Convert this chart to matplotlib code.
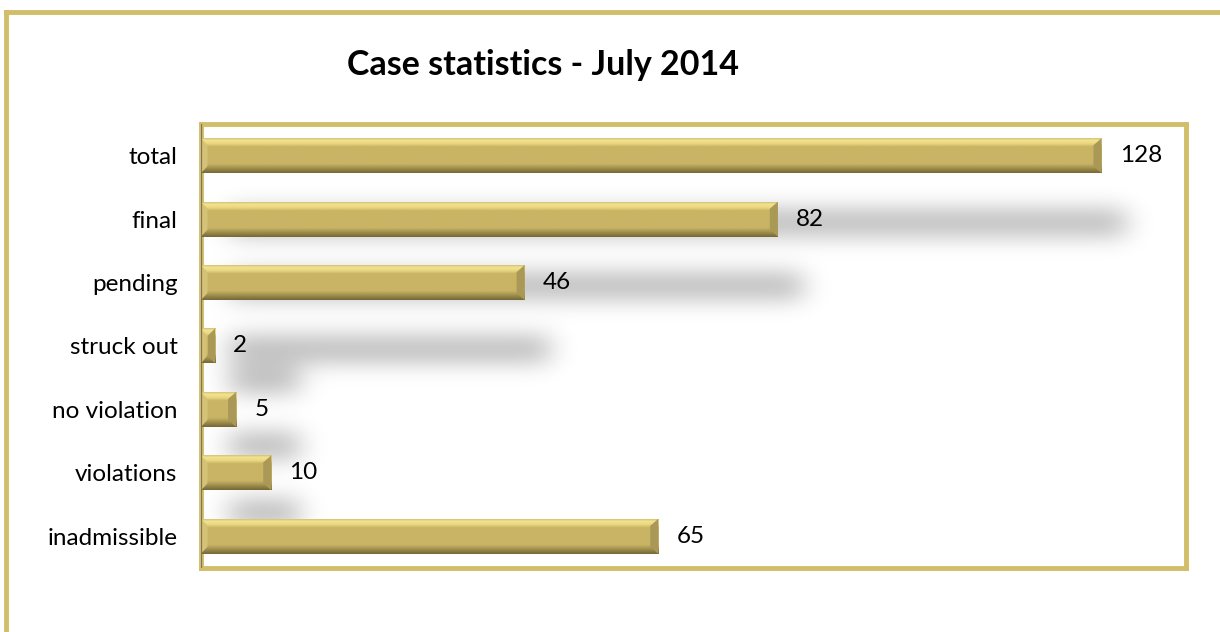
import numpy as np
import matplotlib
matplotlib.use("Agg")
import matplotlib.pyplot as plt
from matplotlib.patches import Polygon
from matplotlib.lines import Line2D
from matplotlib.colors import to_rgb

# data (top to bottom as shown)
categories = ["total", "final", "pending", "struck out", "no violation", "violations", "inadmissible"]
values = [128, 82, 46, 2, 5, 10, 65]
title = "Case statistics - July 2014"
x_max = 140

GOLD = "#D2BD68"
MAIN = "#C9B465"
FONT = ["Lato", "DejaVu Sans"]

plt.rcParams["font.family"] = FONT

fig = plt.figure(figsize=(12.2, 6.32), dpi=100)
ax = fig.add_axes([201 / 1220, 1 - 568 / 632, 985 / 1220, 444 / 632])

n = len(categories)
ypos = np.arange(n)
bar_h = 0.55
ax.set_xlim(0, x_max)
ax.set_ylim(n - 0.5, -0.5)

# ---- soft perspective shadows (blurred mask) ----
W, H = 1000, 450
mask = np.zeros((H, W))
xs = np.linspace(0, x_max, W)
ys = np.linspace(-0.5, n - 0.5, H)
for y, v in zip(ypos, values):
    off = 0.5 + 0.55 * min(1.0, v / 40)
    x0, x1 = 4, max(v + 3.5, 14)
    yy = (ys > y + off - 0.22) & (ys < y + off + 0.22)
    xx = (xs > x0) & (xs < x1)
    mask[np.ix_(yy, xx)] = 1.0


def blur(a, sigma, axis):
    r = int(3 * sigma)
    k = np.exp(-0.5 * (np.arange(-r, r + 1) / sigma) ** 2)
    k /= k.sum()
    return np.apply_along_axis(lambda m: np.convolve(m, k, mode="same"), axis, a)


mask = blur(blur(mask, 14, 1), 11, 0)
shadow = np.zeros((H, W, 4))
shadow[..., 3] = np.clip(mask, 0, 1) * 0.26
ax.imshow(shadow, extent=(0, x_max, n - 0.5, -0.5), origin="upper",
          aspect="auto", zorder=1, interpolation="bilinear")

# ---- bevelled bars ----
prof_pts = [(0.0, "#D6C47A"), (0.06, "#F4E48E"), (0.16, "#E8D57F"),
            (0.24, MAIN), (0.74, MAIN), (0.84, "#A99852"), (1.0, "#766838")]
t = np.linspace(0, 1, 60)
cols = np.array([to_rgb(c) for _, c in prof_pts])
pos = np.array([p for p, _ in prof_pts])
grad = np.stack([np.interp(t, pos, cols[:, k]) for k in range(3)], axis=1)
grad_img = grad[:, None, :]

dy = 0.11
for y, v in zip(ypos, values):
    top, bot = y - bar_h / 2, y + bar_h / 2
    ax.imshow(grad_img, extent=(0, v, bot, top), origin="upper",
              aspect="auto", zorder=3, interpolation="bilinear")
    dx = min(1.15, v / 2)
    ax.add_patch(Polygon([(v, top), (v, bot), (v - dx, bot - dy), (v - dx, top + dy)],
                         closed=True, fc="#AA9956", ec="none", zorder=4))
    ax.add_patch(Polygon([(0, top), (0, bot), (dx * 0.8, bot - dy), (dx * 0.8, top + dy)],
                         closed=True, fc="#D3C278", ec="none", zorder=4))
    ax.annotate(str(v), (v, y), xytext=(13, 0), textcoords="offset points",
                va="center", ha="left", fontsize=17.5, color="black")

ax.set_xlim(0, x_max)
ax.set_ylim(n - 0.5, -0.5)

ax.set_yticks(ypos)
ax.set_yticklabels(categories, fontsize=17.5)
ax.tick_params(axis="y", length=0, pad=17)
ax.set_xticks([])

for side in ["top", "right", "bottom", "left"]:
    ax.spines[side].set_color(GOLD)
    ax.spines[side].set_linewidth(3.5)
ax.axvline(0, color="#7C7560", lw=1.6, zorder=5)

fig.text(543 / 1220, 1 - 65 / 632, title, ha="center", va="center",
         fontsize=24.5, fontweight="bold")

# outer chart frame
fig.add_artist(Line2D([5.5 / 1220, 5.5 / 1220], [0, 1 - 12 / 632],
                      color=GOLD, lw=3.5, transform=fig.transFigure))
fig.add_artist(Line2D([5.5 / 1220, 1.0], [1 - 12 / 632, 1 - 12 / 632],
                      color=GOLD, lw=3.5, transform=fig.transFigure))

fig.savefig("out.png", dpi=100)
